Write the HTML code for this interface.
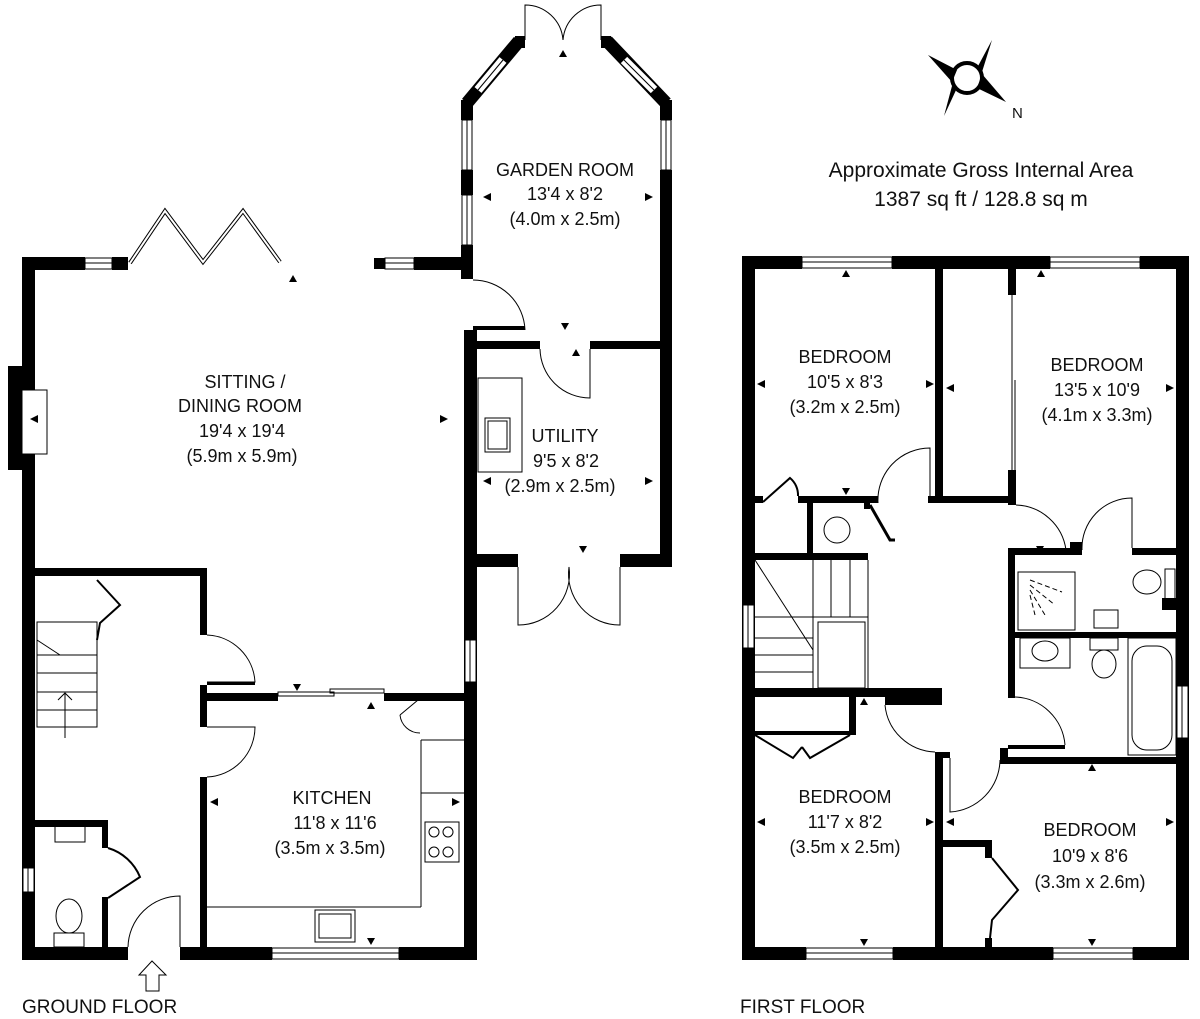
<!DOCTYPE html>
<html><head><meta charset="utf-8"><style>
html,body{margin:0;padding:0;background:#fff}
svg{display:block}
text{font-family:"Liberation Sans",Arial,sans-serif;fill:#111}
</style></head><body>
<svg width="1200" height="1019" viewBox="0 0 1200 1019" xmlns="http://www.w3.org/2000/svg">
<g fill="#000">
<!-- ===== GROUND FLOOR ===== -->
<rect x="22" y="257" width="13" height="703"/>
<rect x="8" y="366" width="16" height="104"/>
<rect x="22" y="257" width="63" height="13"/>
<rect x="112" y="257" width="16" height="13"/>
<rect x="374" y="258" width="11" height="11"/>
<rect x="414" y="257" width="50" height="13"/>
<rect x="461" y="100" width="12" height="20"/>
<rect x="461" y="170" width="12" height="25"/>
<rect x="461" y="245" width="12" height="34"/>
<rect x="515" y="36" width="10" height="12"/>
<rect x="601" y="36" width="10" height="12"/>
<rect x="660" y="100" width="12" height="20"/>
<rect x="660" y="170" width="12" height="397"/>
<rect x="473" y="326" width="52" height="4"/>
<rect x="464" y="330" width="13" height="630"/>
<rect x="473" y="341" width="67" height="8"/>
<rect x="590" y="341" width="72" height="8"/>
<rect x="473" y="554" width="45" height="13"/>
<rect x="620" y="554" width="52" height="13"/>
<rect x="22" y="947" width="106" height="13"/>
<rect x="180" y="947" width="92" height="13"/>
<rect x="399" y="947" width="78" height="13"/>
<rect x="35" y="568" width="171" height="8"/>
<rect x="200" y="568" width="7" height="67"/>
<rect x="200" y="685" width="7" height="42"/>
<rect x="200" y="777" width="7" height="173"/>
<rect x="206" y="693" width="72" height="8"/>
<rect x="384" y="693" width="82" height="8"/>
<rect x="207" y="682" width="48" height="3"/>
<rect x="35" y="820" width="73" height="7"/>
<rect x="102" y="820" width="6" height="28"/>
<rect x="102" y="897" width="6" height="53"/>
<!-- ===== FIRST FLOOR ===== -->
<rect x="742" y="256" width="13" height="704"/>
<rect x="742" y="256" width="60" height="13"/>
<rect x="892" y="256" width="158" height="13"/>
<rect x="1140" y="256" width="49" height="13"/>
<rect x="1176" y="256" width="13" height="704"/>
<rect x="742" y="947" width="64" height="13"/>
<rect x="893" y="947" width="160" height="13"/>
<rect x="1133" y="947" width="56" height="13"/>
<rect x="935" y="269" width="8" height="234"/>
<rect x="928" y="496" width="84" height="7"/>
<rect x="1008" y="269" width="8" height="26"/>
<rect x="1008" y="470" width="8" height="35"/>
<rect x="798" y="496" width="80" height="7"/>
<rect x="755" y="496" width="8" height="7"/>
<rect x="807" y="503" width="6" height="52"/>
<rect x="864" y="503" width="6" height="6"/>
<rect x="755" y="553" width="113" height="7"/>
<rect x="755" y="688" width="187" height="9"/>
<rect x="885" y="697" width="57" height="8"/>
<rect x="849" y="697" width="7" height="38"/>
<rect x="755" y="731" width="101" height="4"/>
<rect x="935" y="752" width="8" height="196"/>
<rect x="943" y="752" width="7" height="6"/>
<rect x="943" y="840" width="49" height="7"/>
<rect x="985" y="840" width="7" height="18"/>
<rect x="985" y="938" width="7" height="10"/>
<rect x="1000" y="757" width="176" height="7"/>
<rect x="1000" y="748" width="8" height="10"/>
<rect x="1008" y="632" width="168" height="6"/>
<rect x="1008" y="548" width="7" height="150"/>
<rect x="1008" y="745" width="57" height="4"/>
<rect x="1015" y="548" width="67" height="7"/>
<rect x="1132" y="548" width="44" height="7"/>
<rect x="1070" y="542" width="12" height="8"/>
<rect x="1162" y="598" width="14" height="12"/>
</g>
<!-- garden room diagonals -->
<g stroke-linecap="butt" fill="none">
<line x1="467" y1="103" x2="519" y2="41" stroke="#000" stroke-width="13"/>
<line x1="478" y1="90" x2="503" y2="60" stroke="#000" stroke-width="11"/>
<line x1="478" y1="90" x2="503" y2="60" stroke="#fff" stroke-width="9"/>
<line x1="478" y1="90" x2="503" y2="60" stroke="#000" stroke-width="1"/>
<line x1="666" y1="103" x2="607" y2="41" stroke="#000" stroke-width="13"/>
<line x1="654" y1="90" x2="624" y2="60" stroke="#000" stroke-width="11"/>
<line x1="654" y1="90" x2="624" y2="60" stroke="#fff" stroke-width="9"/>
<line x1="654" y1="90" x2="624" y2="60" stroke="#000" stroke-width="1"/>
</g>
<!-- windows -->
<g fill="#fff" stroke="#000" stroke-width="1">
<rect x="22" y="390" width="25" height="64"/>
<rect x="85" y="258" width="27" height="11"/><line x1="85" y1="263" x2="112" y2="263"/>
<rect x="385" y="258" width="29" height="11"/><line x1="385" y1="263" x2="414" y2="263"/>
<rect x="462" y="120" width="10" height="50"/><line x1="467" y1="120" x2="467" y2="170"/>
<rect x="462" y="195" width="10" height="50"/><line x1="467" y1="195" x2="467" y2="245"/>
<rect x="661" y="120" width="10" height="50"/><line x1="666" y1="120" x2="666" y2="170"/>
<rect x="465" y="640" width="11" height="42"/><line x1="470" y1="640" x2="470" y2="682"/>
<rect x="272" y="948" width="127" height="11"/><line x1="272" y1="953" x2="399" y2="953"/>
<rect x="23" y="868" width="11" height="24"/><line x1="28" y1="868" x2="28" y2="892"/>
<rect x="802" y="257" width="90" height="11"/><line x1="802" y1="262" x2="892" y2="262"/>
<rect x="1050" y="257" width="90" height="11"/><line x1="1050" y1="262" x2="1140" y2="262"/>
<rect x="806" y="948" width="87" height="11"/><line x1="806" y1="953" x2="893" y2="953"/>
<rect x="1053" y="948" width="80" height="11"/><line x1="1053" y1="953" x2="1133" y2="953"/>
<rect x="743" y="605" width="11" height="43"/><line x1="748" y1="605" x2="748" y2="648"/>
<rect x="1177" y="686" width="11" height="52"/><line x1="1182" y1="686" x2="1182" y2="738"/>
</g>
<g fill="none" stroke="#000" stroke-width="1">
<polyline points="130,263 165,211 203,262 243,211 280,262" stroke-width="4"/>
<polyline points="130,263 165,211 203,262 243,211 280,262" stroke="#fff" stroke-width="2"/>
<path d="M525,40 L525,5 A38,38 0 0 1 563,40"/>
<path d="M601,40 L601,5 A38,38 0 0 0 563,40"/>
<path d="M473,280 A52,52 0 0 1 525,330"/>
<path d="M540,349 A50,50 0 0 0 590,398 L590,349"/>
<path d="M518,567 L518,625 A51,51 0 0 0 569,567"/>
<path d="M620,567 L620,625 A51,51 0 0 1 569,567"/>
<rect x="478" y="378" width="44" height="94"/>
<rect x="485" y="418" width="25" height="34"/><rect x="488" y="421" width="19" height="28"/>
<path d="M207,635 A50,50 0 0 1 255,682 L207,682"/>
<path d="M207,727 L255,727 A50,50 0 0 1 207,777"/>
<rect x="278" y="692" width="56" height="4"/><rect x="330" y="689" width="54" height="4"/>
<line x1="207" y1="907" x2="421" y2="907"/>
<line x1="421" y1="740" x2="421" y2="907"/>
<line x1="421" y1="740" x2="464" y2="740"/>
<line x1="421" y1="793" x2="464" y2="793"/>
<rect x="425" y="822" width="34" height="40"/>
<circle cx="434" cy="832" r="5"/><circle cx="448" cy="832" r="5"/><circle cx="434" cy="852" r="5"/><circle cx="448" cy="852" r="5"/>
<rect x="315" y="910" width="40" height="32"/><rect x="319" y="914" width="32" height="24"/>
<path d="M400,715 L418,700 M400,715 A20,20 0 0 0 420,733"/>
<path d="M180,947 L180,896 A52,52 0 0 0 128,947"/>
<path d="M108,848 A50,50 0 0 1 140,877 L108,898" stroke-width="2"/>
<rect x="37" y="622" width="60" height="105"/>
<line x1="37" y1="655" x2="97" y2="655"/><line x1="37" y1="673" x2="97" y2="673"/><line x1="37" y1="692" x2="97" y2="692"/><line x1="37" y1="710" x2="97" y2="710"/>
<line x1="65" y1="738" x2="65" y2="693"/><polyline points="58,700 65,693 72,700"/>
<path d="M97,580 L120,605 L100,623 L97,640" stroke-width="2"/>
<path d="M37,640 L60,655"/>
<rect x="55" y="826" width="30" height="16"/>
<ellipse cx="69" cy="916" rx="13" ry="17"/><rect x="54" y="933" width="30" height="14"/>
<path d="M146,991 L146,975 L139,975 L152,961 L166,975 L159,975 L159,991 Z"/>
<line x1="1012" y1="295" x2="1012" y2="470"/><line x1="1015" y1="380" x2="1015" y2="470"/>
<path d="M878,503 A52,52 0 0 1 930,448 L930,496"/>
<path d="M763,502 L790,478 A22,22 0 0 1 798,496" stroke-width="2"/>
<circle cx="837" cy="530" r="13"/>
<path d="M870,505 L890,540 L895,540" stroke-width="3"/>
<line x1="755" y1="560" x2="813" y2="650"/>
<line x1="813" y1="560" x2="813" y2="690"/><line x1="831" y1="560" x2="831" y2="617"/><line x1="850" y1="560" x2="850" y2="617"/><line x1="868" y1="560" x2="868" y2="690"/>
<line x1="755" y1="617" x2="868" y2="617"/><rect x="818" y="622" width="47" height="66"/>
<line x1="755" y1="638" x2="813" y2="638"/><line x1="755" y1="655" x2="813" y2="655"/><line x1="755" y1="672" x2="813" y2="672"/>
<path d="M885,705 A52,52 0 0 0 935,752"/>
<path d="M755,735 L793,758 L802,747 M850,735 L810,758 L802,747" stroke-width="2"/>
<path d="M950,758 L950,812 A53,53 0 0 0 1000,760"/>
<path d="M992,858 L1018,890 L992,920 L990,938" stroke-width="2"/>
<path d="M1016,505 A52,52 0 0 1 1066,550"/>
<path d="M1082,550 A50,50 0 0 1 1132,498 L1132,548"/>
<path d="M1015,697 A52,52 0 0 1 1065,745"/>
<rect x="1018" y="572" width="57" height="58"/>
<path d="M1030,580 L1062,592 M1030,585 L1055,605 M1030,590 L1045,615 M1030,595 L1035,615" stroke-dasharray="5,3"/>
<ellipse cx="1147" cy="582" rx="14" ry="12"/><rect x="1165" y="569" width="10" height="30"/>
<rect x="1094" y="610" width="24" height="18"/>
<rect x="1020" y="638" width="50" height="30"/><ellipse cx="1045" cy="651" rx="13" ry="10"/>
<ellipse cx="1104" cy="664" rx="12" ry="14"/><rect x="1090" y="638" width="28" height="12"/>
<rect x="1128" y="638" width="48" height="117"/><rect x="1132" y="646" width="40" height="104" rx="15"/>
<circle cx="967" cy="78" r="15" stroke-width="4"/>
</g>
<g fill="#000">
<polygon points="957,70 928,55 952,82"/><polygon points="977,68 992,40 982,72"/>
<polygon points="957,88 944,116 952,86"/><polygon points="977,88 1006,102 982,74"/>
<polygon points="30,419 38,415 38,423"/>
<polygon points="293,275 289,282 297,282"/><polygon points="440,415 448,419 440,423"/>
<polygon points="563,50 559,57 567,57"/><polygon points="483,197 491,193 491,201"/><polygon points="653,197 645,193 645,201"/>
<polygon points="565,330 561,323 569,323"/><polygon points="576,349 572,356 580,356"/>
<polygon points="483,481 491,477 491,485"/><polygon points="653,481 645,477 645,485"/><polygon points="583,553 579,546 587,546"/>
<polygon points="297,691 293,684 301,684"/><polygon points="371,702 367,709 375,709"/>
<polygon points="210,802 218,798 218,806"/><polygon points="460,802 452,798 452,806"/><polygon points="371,945 367,938 375,938"/>
<polygon points="846,270 842,277 850,277"/>
<polygon points="757,384 765,380 765,388"/><polygon points="934,384 926,380 926,388"/><polygon points="946,388 954,384 954,392"/>
<polygon points="846,495 842,488 850,488"/><polygon points="1041,270 1037,277 1045,277"/><polygon points="1174,388 1166,384 1166,392"/>
<polygon points="1040,553 1036,546 1044,546"/>
<polygon points="864,698 860,705 868,705"/><polygon points="757,822 765,818 765,826"/><polygon points="934,822 926,818 926,826"/>
<polygon points="946,822 954,818 954,826"/><polygon points="1174,822 1166,818 1166,826"/>
<polygon points="1092,764 1088,771 1096,771"/><polygon points="864,946 860,939 868,939"/><polygon points="1092,946 1088,939 1096,939"/>
</g>
<g font-size="18" text-anchor="middle">
<text x="565" y="176">GARDEN ROOM</text><text x="565" y="200">13'4 x 8'2</text><text x="565" y="225">(4.0m x 2.5m)</text>
<text x="245" y="388">SITTING /</text><text x="240" y="412">DINING ROOM</text><text x="242" y="437">19'4 x 19'4</text><text x="242" y="462">(5.9m x 5.9m)</text>
<text x="565" y="442">UTILITY</text><text x="566" y="467">9'5 x 8'2</text><text x="560" y="492">(2.9m x 2.5m)</text>
<text x="332" y="804">KITCHEN</text><text x="335" y="829">11'8 x 11'6</text><text x="330" y="854">(3.5m x 3.5m)</text>
<text x="845" y="363">BEDROOM</text><text x="845" y="388">10'5 x 8'3</text><text x="845" y="413">(3.2m x 2.5m)</text>
<text x="1097" y="371">BEDROOM</text><text x="1097" y="396">13'5 x 10'9</text><text x="1097" y="421">(4.1m x 3.3m)</text>
<text x="845" y="803">BEDROOM</text><text x="845" y="828">11'7 x 8'2</text><text x="845" y="853">(3.5m x 2.5m)</text>
<text x="1090" y="836">BEDROOM</text><text x="1090" y="862">10'9 x 8'6</text><text x="1090" y="888">(3.3m x 2.6m)</text>
</g>
<g font-size="21" text-anchor="middle">
<text x="981" y="177">Approximate Gross Internal Area</text>
<text x="981" y="206">1387 sq ft / 128.8 sq m</text>
</g>
<text x="1012" y="118" font-size="15">N</text>
<text x="22" y="1013" font-size="19">GROUND FLOOR</text>
<text x="740" y="1013" font-size="19">FIRST FLOOR</text>
</svg>
</body></html>
